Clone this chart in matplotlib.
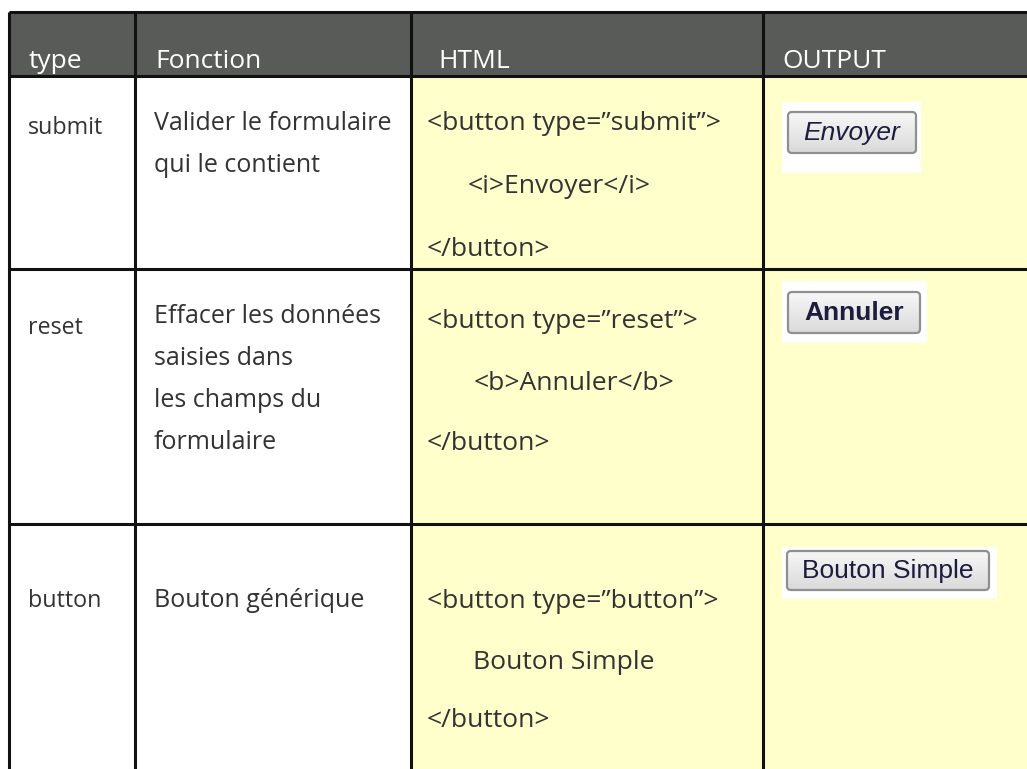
import matplotlib
matplotlib.use("Agg")
import matplotlib.pyplot as plt
import numpy as np
from matplotlib.patches import Rectangle, FancyBboxPatch
from matplotlib.textpath import TextPath
from matplotlib.font_manager import FontProperties

W, H = 1027, 769

headers = ["type", "Fonction", "HTML", "OUTPUT"]
types = ["submit", "reset", "button"]
fonctions = [
    ["Valider le formulaire", "qui le contient"],
    ["Effacer les données", "saisies dans", "les champs du", "formulaire"],
    ["Bouton générique"],
]
html_lines = [
    ['<button type=\u201dsubmit\u201d>', '<i>Envoyer</i>', '</button>'],
    ['<button type=\u201dreset\u201d>', '<b>Annuler</b>', '</button>'],
    ['<button type=\u201dbutton\u201d>', 'Bouton Simple', '</button>'],
]
outputs = ["Envoyer", "Annuler", "Bouton Simple"]
output_styles = [("italic", "normal"), ("normal", "bold"), ("normal", "normal")]

# layout (pixels)
col_x = [9, 135, 411, 763, W + 5]
top, head_bot = 12, 76
row_y = [76, 269, 524, H + 5]

FONT = "Open Sans"
TXT = "#333333"
YEL = "#ffffcc"
HEAD = "#595b59"


def fit_size(s, target_px, family, style="normal", weight="normal"):
    # font size (pt at 100 dpi) giving the target pixel width
    fp = FontProperties(family=family, style=style, weight=weight, size=10)
    w = TextPath((0, 0), s, prop=fp).get_extents().width
    w_px = w * 100 / 72
    return 10 * target_px / w_px


fs_main = fit_size("Valider le formulaire", 236, FONT)
fs_html = fit_size('<button type=\u201dsubmit\u201d>', 291, FONT)
fs_type = fs_main * 0.93
fs_head = fit_size("OUTPUT", 102, FONT)
fs_btn = fit_size("Bouton Simple", 168, "Liberation Sans")

fig = plt.figure(figsize=(W / 100, H / 100), dpi=100)
ax = fig.add_axes([0, 0, 1, 1])
ax.set_xlim(0, W)
ax.set_ylim(H, 0)
ax.axis("off")

# backgrounds
ax.add_patch(Rectangle((col_x[0], top), col_x[-1] - col_x[0], head_bot - top, fc=HEAD, ec="none", zorder=1))
ax.add_patch(Rectangle((col_x[2], head_bot), col_x[-1] - col_x[2], H + 5 - head_bot, fc=YEL, ec="none", zorder=1))

# grid lines
for x in col_x[:-1]:
    ax.plot([x, x], [top, H + 5], color="#111111", lw=2.2, zorder=3, solid_capstyle="butt")
for y in [top, head_bot] + row_y[1:3]:
    ax.plot([col_x[0], W + 5], [y, y], color="#111111", lw=2.2, zorder=3, solid_capstyle="butt")

# header (baseline placement)
head_x = [29, 155, 438, 782]
for i, h in enumerate(headers):
    ax.text(head_x[i], 68, h, color="white", fontsize=fs_head, family=FONT, va="baseline", ha="left", zorder=4)

# rows (baselines)
type_y = [134, 334, 607]
fonc_y0 = [130, 323, 607]
fonc_step = 42
html_y = [[130, 193, 256], [328, 390, 450], [608, 669, 727]]
html_indent = [41, 47, 46]
for r in range(3):
    ax.text(28, type_y[r], types[r], color=TXT, fontsize=fs_type, family=FONT, va="baseline", zorder=4)
    for k, line in enumerate(fonctions[r]):
        ax.text(154, fonc_y0[r] + k * fonc_step, line, color=TXT, fontsize=fs_main, family=FONT,
                va="baseline", zorder=4)
    for k, line in enumerate(html_lines[r]):
        dx = html_indent[r] if k == 1 else 0
        ax.text(427 + dx, html_y[r][k], line, color=TXT, fontsize=fs_html, family=FONT,
                va="baseline", zorder=4)

# output buttons (white image area + grey gradient button)
white_boxes = [(782, 102, 921, 173), (782, 281, 927, 343), (782, 547, 997, 599)]
buttons = [(788, 112, 916, 153), (788, 292, 920, 333), (787, 551, 989, 590)]
grad = np.linspace(0, 1, 64).reshape(-1, 1)
cmap = matplotlib.colors.LinearSegmentedColormap.from_list("g", ["#f7f7f7", "#dadada"])
for r in range(3):
    x0, y0, x1, y1 = white_boxes[r]
    ax.add_patch(Rectangle((x0, y0), x1 - x0, y1 - y0, fc="white", ec="none", zorder=2))
    bx0, by0, bx1, by1 = buttons[r]
    patch = FancyBboxPatch((bx0, by0), bx1 - bx0, by1 - by0, boxstyle="round,pad=0,rounding_size=4",
                           fc="none", ec="#8f8f8f", lw=1.6, zorder=5)
    ax.add_patch(patch)
    im = ax.imshow(grad, extent=(bx0, bx1, by1, by0), cmap=cmap, aspect="auto", zorder=4)
    im.set_clip_path(patch)
    style, weight = output_styles[r]
    ax.text((bx0 + bx1) / 2, (by0 + by1) / 2 + 0.5, outputs[r], color="#1c1c3c", fontsize=fs_btn,
            family="Liberation Sans", style=style, weight=weight, ha="center", va="center", zorder=6)

ax.set_xlim(0, W)
ax.set_ylim(H, 0)
fig.savefig("out.png", dpi=100)
